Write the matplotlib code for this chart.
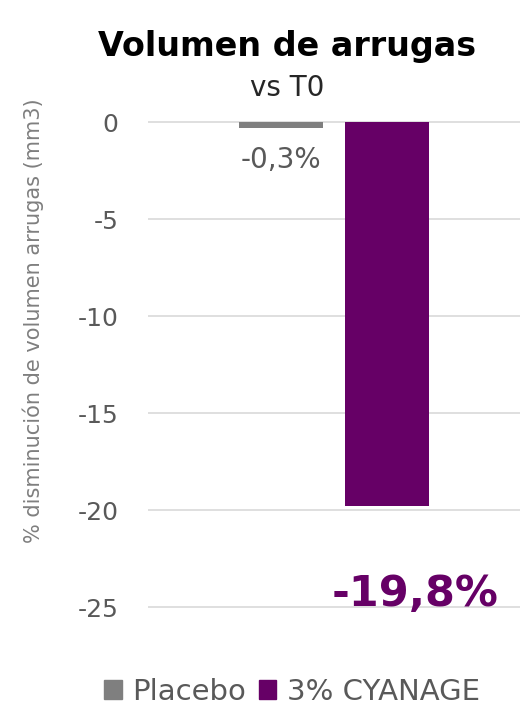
import matplotlib
matplotlib.use("Agg")
import matplotlib.pyplot as plt
from matplotlib.patches import Patch

series = ["Placebo", "3% CYANAGE"]
values = [-0.3, -19.8]
labels = ["-0,3%", "-19,8%"]
colors = ["#7f7f7f", "#660066"]
yticks = [0, -5, -10, -15, -20, -25]

plt.rcParams['font.family'] = ['DejaVu Sans']
grey = "#595959"

fig = plt.figure(figsize=(5.24, 7.11), dpi=100)
ax = fig.add_axes([0.282, 0.1406, 0.71, 0.693])

offsets = [-0.143, 0.143]
width = 0.226
for off, v, c in zip(offsets, values, colors):
    ax.bar(off, v, width=width, color=c, zorder=3)

ax.set_xlim(-0.5, 0.5)
ax.set_ylim(-25.2, 0.2)
ax.set_yticks(yticks)
ax.set_yticklabels([str(t) for t in yticks], fontsize=18, color=grey)
ax.set_xticks([])
ax.yaxis.grid(True, color="#d9d9d9", linewidth=1.2, zorder=0)
for s in ax.spines.values():
    s.set_visible(False)
ax.tick_params(axis='y', length=0, pad=21)
ax.set_ylabel("% disminución de volumen arrugas (mm3)", fontsize=15, color="#7f7f7f")
ax.yaxis.set_label_coords(-0.28, 0.59)

# value labels
ax.text(offsets[0], values[0] - 1.66, labels[0], ha="center", va="center", fontsize=20, color=grey)
ax.text(offsets[1] + 0.075, values[1] - 4.5, labels[1], ha="center", va="center", fontsize=31,
        fontweight="bold", color=colors[1])

fig.text(0.548, 0.935, "Volumen de arrugas", ha="center", va="center", fontsize=24, fontweight="bold", color="black")
fig.text(0.548, 0.876, "vs T0", ha="center", va="center", fontsize=20, color="#262626")

handles = [Patch(color=c) for c in colors]
fig.legend(handles, series, loc="center", bbox_to_anchor=(0.557, 0.027), ncol=2, frameon=False,
           fontsize=21, labelcolor=grey, handlelength=0.6, handleheight=0.6, handletextpad=0.35,
           columnspacing=0.45, borderpad=0)

fig.savefig("out.png", dpi=100)
